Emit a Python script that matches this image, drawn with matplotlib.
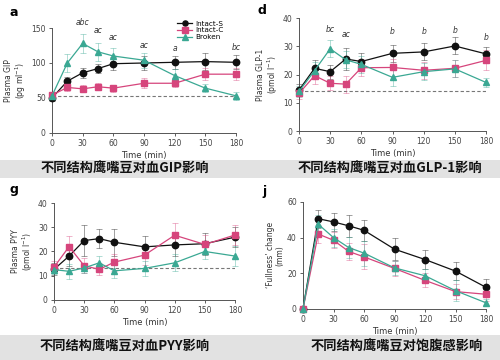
import matplotlib
matplotlib.use('Agg')
import matplotlib.pyplot as plt
from matplotlib.patches import Rectangle

plt.rcParams['font.family'] = ['DejaVu Sans']

time = [0, 15, 30, 45, 60, 90, 120, 150, 180]
xticks = [0, 30, 60, 90, 120, 150, 180]
series_names = ['Intact-S', 'Intact-C', 'Broken']
colors = ['#111111', '#d6457c', '#3aa893']
markers = ['o', 's', '^']

# a: GIP
gip_s = [50, 74, 86, 92, 99, 100, 101, 102, 101]
gip_c = [54, 65, 63, 66, 64, 71, 71, 84, 84]
gip_b = [53, 100, 128, 116, 110, 104, 82, 64, 53]
gip_s_err = [4, 6, 7, 7, 9, 10, 9, 12, 10]
gip_c_err = [4, 5, 5, 5, 5, 7, 6, 9, 9]
gip_b_err = [4, 13, 14, 13, 11, 11, 10, 6, 6]
gip_base = 53
gip_sig = [(30, 152, 'abc'), (45, 140, 'ac'), (60, 130, 'ac'), (90, 118, 'ac'), (120, 114, 'a'), (180, 116, 'bc')]

# d: GLP-1
glp_s = [14.5, 22.2, 21.0, 25.5, 24.6, 27.5, 28.0, 30.1, 27.3]
glp_c = [13.3, 19.6, 16.9, 16.6, 22.4, 22.5, 21.5, 22.2, 25.0]
glp_b = [14.0, 21.4, 29.1, 25.2, 23.6, 19.0, 21.0, 22.0, 17.2]
glp_s_err = [2, 3, 2.5, 4, 3, 3, 3, 3, 2.5]
glp_c_err = [2, 3, 2.5, 3, 3, 3, 3, 3, 3.5]
glp_b_err = [2, 3, 3, 3, 3, 3, 3, 3, 1.5]
glp_base = 14.2
glp_sig = [(30, 34.5, 'bc'), (45, 32.5, 'ac'), (90, 33.5, 'b'), (120, 33.5, 'b'), (150, 34, 'b'), (180, 31.5, 'b')]

# g: PYY
pyy_s = [12.6, 18.1, 24.5, 25.3, 23.8, 21.9, 22.7, 23.2, 25.9]
pyy_c = [13.5, 22.0, 14.1, 12.6, 15.6, 18.5, 26.7, 22.9, 26.8]
pyy_b = [12.5, 11.8, 13.2, 15.3, 12.0, 13.0, 15.3, 20.0, 18.1]
pyy_s_err = [2.5, 4, 6.5, 4, 5.5, 4.5, 4.5, 4.5, 4]
pyy_c_err = [2.5, 4.5, 3, 2.5, 3.5, 4, 5, 4, 4]
pyy_b_err = [2, 3, 2, 3, 3, 3, 3.5, 3, 4]
pyy_base = 13.3

# j: fullness
full_s = [0, 50.6, 48.8, 46.6, 44.1, 33.5, 27.7, 21.2, 12.1]
full_c = [0, 42.0, 38.5, 32.2, 29.2, 22.7, 16.0, 9.7, 8.2]
full_b = [0, 47.5, 40.0, 34.4, 31.3, 23.0, 18.6, 10.2, 3.4]
full_s_err = [0, 5, 5, 6, 6, 6, 5.5, 5, 4.5]
full_c_err = [0, 5, 4.5, 5, 7, 4, 4, 4, 4]
full_b_err = [0, 5, 5, 6, 7, 4, 4, 6, 2]

captions = ['不同结构鹰嘴豆对血GIP影响', '不同结构鹰嘴豆对血GLP-1影响',
            '不同结构鹰嘴豆对血PYY影响', '不同结构鹰嘴豆对饱腹感影响']

fig = plt.figure(figsize=(5, 3.6), dpi=100)
fig.patch.set_facecolor('white')

# grey caption bands
fig.patches.append(Rectangle((0, 1 - 178 / 360), 1, 18 / 360, transform=fig.transFigure,
                             facecolor='#e2e2e2', edgecolor='none', zorder=0))
fig.patches.append(Rectangle((0, 0), 1, 25 / 360, transform=fig.transFigure,
                             facecolor='#e2e2e2', edgecolor='none', zorder=0))


def panel(rect, ys, errs, ymax, yticks, ylabel, base=None, sig=None, legend=False):
    ax = fig.add_axes(rect)
    for y, e, c, m, name in zip(ys, errs, colors, markers, series_names):
        ax.errorbar(time, y, yerr=e, fmt='none', ecolor=c, alpha=0.4,
                    elinewidth=0.7, capsize=2.2, capthick=0.7, clip_on=False)
        ax.plot(time, y, color=c, marker=m, markersize=4.6, linewidth=0.9,
                label=name, clip_on=False, zorder=3)
    if base is not None:
        ax.axhline(base, color='#777777', linestyle=(0, (3, 2)), linewidth=0.8, zorder=1)
    if sig:
        for x, y, t in sig:
            ax.text(x, y, t, fontsize=5.5, style='italic', ha='center', va='bottom', color='#333333')
    ax.set_xlim(0, 180)
    ax.set_ylim(0, ymax)
    ax.set_xticks(xticks)
    ax.set_yticks(yticks)
    for s in ['top', 'right']:
        ax.spines[s].set_visible(False)
    for s in ['left', 'bottom']:
        ax.spines[s].set_color('#555555')
        ax.spines[s].set_linewidth(0.7)
    ax.tick_params(labelsize=5.5, colors='#444444', length=2.5, width=0.6, pad=2)
    ax.set_xlabel('Time (min)', fontsize=6, color='#333333', labelpad=2)
    ax.set_ylabel(ylabel, fontsize=5.5, color='#333333', labelpad=2, linespacing=1.1)
    if legend:
        ax.legend(loc='upper right', bbox_to_anchor=(0.95, 1.1), fontsize=5.2, frameon=False,
                  handlelength=2.0, labelspacing=0.1, borderaxespad=0, handletextpad=0.5,
                  markerscale=0.8)
    return ax


panel([0.104, 0.631, 0.368, 0.291], [gip_s, gip_c, gip_b], [gip_s_err, gip_c_err, gip_b_err],
      150, [0, 50, 100, 150], 'Plasma GIP\n(pg ml$^{-1}$)', gip_base, gip_sig, legend=True)
panel([0.598, 0.636, 0.374, 0.314], [glp_s, glp_c, glp_b], [glp_s_err, glp_c_err, glp_b_err],
      40, [0, 10, 20, 30, 40], 'Plasma GLP-1\n(pmol l$^{-1}$)', glp_base, glp_sig)
panel([0.108, 0.167, 0.362, 0.269], [pyy_s, pyy_c, pyy_b], [pyy_s_err, pyy_c_err, pyy_b_err],
      40, [0, 10, 20, 30, 40], 'Plasma PYY\n(pmol l$^{-1}$)', pyy_base)
panel([0.606, 0.142, 0.366, 0.297], [full_s, full_c, full_b], [full_s_err, full_c_err, full_b_err],
      60, [0, 20, 40, 60], '\u2018Fullness\u2019 change\n(mm)')

# panel letters
for x, y, t in [(10, 12, 'a'), (258, 10, 'd'), (10, 190, 'g'), (262, 192, 'j')]:
    fig.text(x / 500, 1 - y / 360, t, fontsize=9, fontweight='bold', ha='left', va='center')

# captions
for x, y, t in [(125, 169, captions[0]), (390, 169, captions[1]),
                (125, 347, captions[2]), (397, 347, captions[3])]:
    fig.text(x / 500, 1 - y / 360, t, fontsize=9.5, fontweight='bold', ha='center', va='center',
             family=['Noto Sans CJK SC', 'DejaVu Sans'], color='#111111')

fig.savefig('out.png', dpi=100)
